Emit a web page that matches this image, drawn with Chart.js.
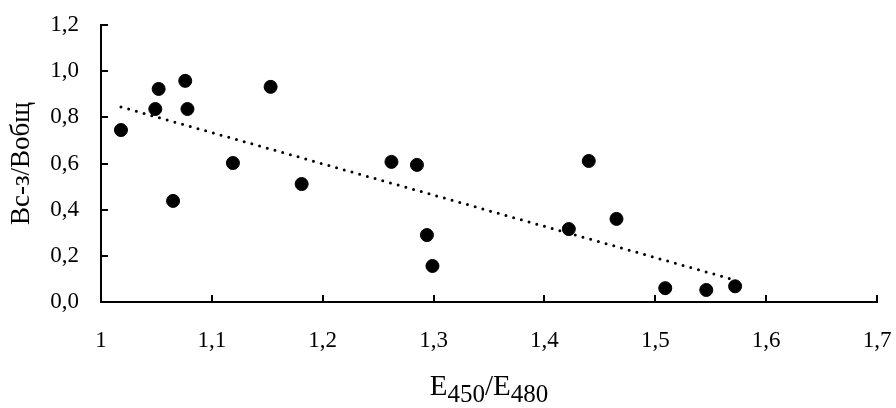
<!DOCTYPE html>
<html>
<head>
<meta charset="utf-8">
<script src="https://cdn.jsdelivr.net/npm/chart.js@4/dist/chart.umd.min.js"></script>
<style>
  html, body { margin: 0; padding: 0; background: #fff; }
  #wrap { position: relative; width: 896px; height: 408px; }
  #xTitle {
    position: absolute; left: 101px; width: 776px; top: 368px;
    text-align: center; font-family: "Liberation Serif", serif; font-size: 29px; color: #000;
    line-height: 34px;
  }
  #xTitle sub { font-size: 25px; vertical-align: -7px; line-height: 0; }
</style>
</head>
<body>
<div id="wrap">
  <canvas id="scatter" width="896" height="408"></canvas>
  <div id="xTitle">E<sub>450</sub>/E<sub>480</sub></div>
</div>
<script>
// E450/E480 vs Вс-з/Вобщ
const ratioE = [1.018, 1.049, 1.052, 1.076, 1.078, 1.065, 1.119, 1.153, 1.181, 1.262,
                1.285, 1.294, 1.299, 1.422, 1.440, 1.465, 1.509, 1.546, 1.572];
const ratioB = [0.745, 0.836, 0.923, 0.958, 0.836, 0.438, 0.602, 0.932, 0.511, 0.607,
                0.594, 0.290, 0.156, 0.316, 0.611, 0.360, 0.060, 0.052, 0.068];

// trend line ends
const trendX = [1.018, 1.572];
const trendY = [0.845, 0.095];

const xTicks = [1, 1.1, 1.2, 1.3, 1.4, 1.5, 1.6, 1.7];
const yTicks = [0, 0.2, 0.4, 0.6, 0.8, 1.0, 1.2];

const font = "Liberation Serif";

// short ticks pointing into the plot
const innerTicks = {
  id: "innerTicks",
  afterDraw(chart) {
    const { ctx, chartArea, scales } = chart;
    ctx.save();
    ctx.strokeStyle = "#000";
    ctx.lineWidth = 2;
    ctx.beginPath();
    xTicks.forEach(v => {
      const px = Math.round(scales.x.getPixelForValue(v));
      ctx.moveTo(px, chartArea.bottom);
      ctx.lineTo(px, chartArea.bottom - 7);
    });
    yTicks.forEach(v => {
      const py = Math.round(scales.y.getPixelForValue(v));
      ctx.moveTo(chartArea.left, py);
      ctx.lineTo(chartArea.left + 7, py);
    });
    ctx.stroke();
    ctx.restore();
  }
};

const fmt = v => String(Math.round(v * 10) / 10).replace(".", ",");

new Chart(document.getElementById("scatter"), {
  type: "scatter",
  data: {
    datasets: [{
      data: ratioE.map((x, i) => ({ x, y: ratioB[i] })),
      backgroundColor: "#000",
      borderColor: "#000",
      pointRadius: 6.5,
      pointHoverRadius: 6.5
    }, {
      data: trendX.map((x, i) => ({ x, y: trendY[i] })),
      showLine: true,
      pointRadius: 0,
      borderColor: "#000",
      borderWidth: 3,
      borderDash: [0, 8],
      borderCapStyle: "round"
    }]
  },
  options: {
    responsive: false,
    animation: false,
    clip: false,
    layout: { padding: { top: 25, right: 19, left: 0, bottom: 0 } },
    plugins: { legend: { display: false }, tooltip: { enabled: false } },
    scales: {
      x: {
        type: "linear",
        min: 1, max: 1.7,
        afterBuildTicks: s => { s.ticks = xTicks.map(value => ({ value })); },
        afterFit: s => { s.height = 106; s.paddingLeft = 0; s.paddingRight = 0; },
        grid: { display: false, drawTicks: false },
        border: { color: "#000", width: 2 },
        ticks: {
          color: "#000", padding: 25,
          font: { family: font, size: 23 },
          callback: v => fmt(v)
        }
      },
      y: {
        min: 0, max: 1.2,
        afterBuildTicks: s => { s.ticks = yTicks.map(value => ({ value })); },
        afterFit: s => { s.width = 101; s.paddingTop = 0; s.paddingBottom = 0; },
        grid: { display: false, drawTicks: false },
        border: { color: "#000", width: 2 },
        ticks: {
          color: "#000", padding: 22,
          font: { family: font, size: 23 },
          callback: v => Number(v).toFixed(1).replace(".", ",")
        },
        title: {
          display: true, text: "Вс-з/Вобщ", color: "#000",
          font: { family: font, size: 27 }, padding: { top: 6, bottom: 0 }
        }
      }
    }
  },
  plugins: [innerTicks]
});
</script>
</body>
</html>
